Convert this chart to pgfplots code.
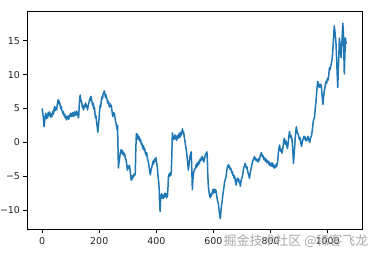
\documentclass[border=0pt]{standalone}
\usepackage{pgfplots}
\pgfplotsset{compat=1.18}
\usepackage{fontspec}
\setmainfont{DejaVu Sans}
\newfontfamily\cjk{Noto Sans CJK SC}
\definecolor{c0}{HTML}{1F77B4}
\pgfplotstableread{
x y
0 5.0
2 4.4
4 3.8
6 2.6
7 2.3
9 3.2
11 3.9
13 4.3
15 3.5
17 4.0
19 3.6
21 4.4
23 3.9
25 4.5
28 4.3
30 3.7
32 4.2
34 3.8
36 4.1
38 4.6
40 4.2
42 5.0
44 5.3
46 4.7
48 5.1
51 4.8
53 5.6
55 6.0
56 6.3
58 5.7
60 6.1
63 5.5
65 5.0
67 5.3
69 4.7
71 4.6
73 4.2
75 4.5
77 3.9
79 4.1
81 3.6
83 3.9
85 3.3
87 3.8
89 3.5
91 3.9
93 3.4
95 3.7
97 4.0
100 4.3
102 3.8
104 4.2
106 3.9
108 4.4
110 3.8
112 4.1
114 4.5
116 4.0
118 4.3
121 4.6
123 4.0
125 4.4
127 3.6
128 3.8
130 5.5
132 6.6
133 7.0
135 6.4
137 6.1
139 5.8
141 5.1
143 5.4
145 4.8
147 5.2
149 5.5
152 5.8
154 5.2
156 5.5
159 4.8
161 5.3
163 5.7
165 6.0
167 6.5
169 6.2
171 6.8
173 6.3
175 5.9
177 5.4
179 5.8
181 4.9
183 5.2
185 4.3
187 3.6
189 3.9
191 2.9
193 2.2
195 1.5
197 2.4
199 3.3
201 4.6
203 5.5
205 5.2
207 6.1
209 6.7
211 6.4
213 7.0
215 7.3
218 7.6
220 7.1
222 6.6
224 7.0
226 6.5
228 6.2
230 5.8
232 6.1
234 5.6
236 5.2
238 5.7
240 5.3
242 5.5
244 4.8
246 4.2
247 3.8
249 4.4
251 4.0
253 4.3
255 3.6
257 3.1
259 2.8
261 2.2
263 1.8
264 2.5
265 0.5
266 -1.5
267 -3.8
269 -3.0
271 -2.4
273 -1.8
275 -1.3
277 -1.1
279 -1.6
281 -1.2
283 -1.8
285 -1.5
287 -2.0
289 -1.7
291 -2.3
294 -2.6
296 -3.2
298 -3.9
299 -4.1
301 -3.5
303 -3.8
306 -3.4
308 -4.2
310 -4.9
312 -5.6
314 -5.0
316 -5.4
318 -4.9
320 -5.1
322 -4.7
324 -4.9
326 -4.6
327 -3.0
328 -1.0
330 1.3
332 0.8
334 1.2
336 0.4
338 0.9
341 0.6
343 0.1
345 0.4
347 -0.3
349 -0.1
351 -0.6
353 -0.9
355 -0.5
357 -1.2
359 -0.9
361 -1.5
364 -1.9
366 -1.5
368 -2.2
370 -2.6
372 -2.9
374 -3.5
376 -4.1
379 -4.8
381 -4.2
383 -3.8
386 -3.3
388 -2.8
390 -3.2
392 -2.6
394 -2.9
396 -2.4
399 -2.3
401 -3.0
403 -3.6
404 -4.1
406 -5.0
408 -5.8
410 -7.0
411 -8.5
413 -10.2
414 -9.0
416 -8.0
418 -7.6
420 -8.2
422 -7.7
424 -8.3
426 -7.9
428 -8.1
430 -7.5
432 -8.0
434 -7.6
436 -8.2
439 -7.8
441 -6.4
442 -5.1
444 -4.7
446 -5.0
448 -4.5
450 -4.9
452 -4.6
454 -2.0
456 1.4
458 0.9
460 0.4
463 0.6
465 1.1
467 0.5
469 0.9
471 0.3
474 1.0
476 0.6
478 1.2
480 0.7
482 1.4
484 0.8
486 1.5
488 1.1
491 2.0
493 1.4
495 1.6
498 0.7
500 0.2
502 -0.4
505 -1.1
507 -2.0
509 -2.8
512 -4.1
514 -3.4
516 -2.6
518 -2.0
520 -1.7
522 -1.4
524 -4.0
526 -7.0
528 -5.5
530 -4.6
532 -4.2
535 -3.9
537 -3.8
539 -3.3
541 -3.7
543 -3.0
545 -3.4
547 -3.3
549 -2.8
551 -3.1
553 -2.5
556 -2.7
558 -2.2
560 -2.1
562 -2.6
564 -2.3
566 -2.9
568 -2.6
570 -2.1
572 -1.8
575 -1.6
577 -1.4
579 -3.0
580 -4.8
582 -6.5
584 -7.2
586 -7.8
589 -8.2
591 -7.6
593 -7.9
596 -7.3
598 -7.0
600 -7.5
602 -6.9
605 -7.4
607 -7.0
609 -7.2
611 -7.8
613 -8.4
615 -8.8
617 -9.0
619 -9.8
621 -10.5
623 -11.0
624 -11.3
626 -10.2
628 -9.4
630 -8.8
632 -8.0
635 -7.1
637 -6.5
639 -5.8
641 -5.5
644 -5.1
646 -4.4
648 -3.8
650 -3.5
652 -3.3
654 -3.7
656 -3.5
658 -4.0
660 -3.8
662 -4.1
664 -4.5
666 -4.3
668 -4.9
670 -4.8
672 -5.3
674 -5.0
676 -5.6
679 -6.3
681 -5.6
684 -5.3
686 -5.7
688 -5.4
690 -6.0
692 -5.8
694 -6.5
696 -5.9
698 -5.4
701 -5.1
703 -4.6
705 -4.0
707 -3.6
709 -3.4
711 -3.1
713 -3.5
715 -3.8
717 -3.6
719 -4.1
721 -4.5
723 -4.8
726 -5.3
728 -4.7
730 -4.2
732 -3.8
734 -3.4
736 -3.0
738 -2.7
741 -2.4
743 -2.1
745 -2.5
747 -2.3
749 -2.7
751 -2.5
753 -2.8
755 -2.5
757 -2.9
759 -2.4
761 -2.6
763 -2.1
765 -1.8
768 -1.5
770 -1.9
772 -2.2
774 -2.0
776 -2.5
778 -2.6
780 -2.3
782 -2.8
784 -2.5
786 -3.0
788 -2.7
791 -2.8
793 -3.2
795 -2.9
797 -3.4
799 -3.1
801 -3.5
803 -3.3
805 -3.0
807 -3.6
809 -3.2
811 -3.7
814 -3.8
816 -3.4
818 -3.7
820 -3.2
822 -3.5
824 -3.0
826 -2.2
828 -1.2
831 -0.4
833 -0.8
835 -1.3
837 -1.0
840 -1.6
842 -1.1
844 -0.5
846 0.2
848 0.6
850 0.1
852 -0.3
854 0.2
856 -0.4
859 -0.9
861 -0.3
863 0.5
866 1.6
868 1.1
870 0.7
872 1.0
875 0.4
877 -0.8
879 -2.2
880 -3.1
882 -2.0
884 -0.8
886 0.5
888 1.6
890 2.3
892 1.8
894 1.4
897 1.1
899 0.8
901 0.4
903 0.7
905 0.1
908 -0.6
910 -0.2
912 0.3
915 0.6
917 0.9
919 0.5
921 0.8
923 0.3
925 0.2
927 0.6
929 0.4
931 0.9
933 0.5
935 0.2
937 0.0
939 0.5
941 0.8
943 0.9
945 1.5
947 2.2
949 3.0
951 3.4
953 3.6
954 3.8
956 4.8
958 5.7
959 6.1
961 7.2
963 8.2
965 9.0
967 8.6
969 8.3
971 8.1
973 8.6
975 8.3
977 8.5
979 7.6
981 6.5
983 5.6
985 6.5
987 7.2
988 7.6
990 8.0
992 8.6
994 9.0
996 8.7
998 9.2
1000 9.5
1002 9.2
1004 10.1
1006 11.0
1008 10.7
1010 11.2
1012 11.5
1014 12.0
1016 12.6
1017 13.0
1019 14.5
1021 16.0
1023 17.2
1025 16.5
1027 15.6
1029 14.5
1031 12.5
1033 10.2
1035 8.1
1037 10.5
1039 13.0
1041 15.4
1043 14.6
1045 13.3
1047 12.5
1049 14.0
1051 16.0
1053 17.6
1055 16.0
1056 14.5
1057 12.0
1058 10.1
1060 12.8
1062 15.4
1064 14.6
1066 14.8
}\series
\begin{document}
\begin{tikzpicture}
\begin{axis}[
  scale only axis, width=335bp, height=218bp,
  at={(0,0)}, anchor=south west,
  xmin=-53, xmax=1120, ymin=-12.8, ymax=19.4,
  xtick={0,200,400,600,800,1000},
  xticklabels={0,200,400,600,800,1000},
  ytick={-10,-5,0,5,10,15},
  yticklabels={−10,−5,0,5,10,15},
  tick align=outside, tick pos=left,
  major tick length=3.5bp,
  axis line style={line width=0.8bp, black},
  every tick/.style={line width=0.8bp, black},
  ticklabel style={font=\fontsize{9.5}{11}\selectfont, text=black!85},
  xticklabel style={yshift=-1bp},
  /pgf/number format/assume math mode=true,
]
\addplot[c0, line width=1.5bp, line join=round] table[x=x, y=y] {\series};
\end{axis}
\node[font=\cjk\fontsize{13}{15}\selectfont, text=gray!75, opacity=0.9] at (269bp,-12bp) {掘金技术社区 @稀客飞龙};
\pgfresetboundingbox
\path[use as bounding box] (-27bp,-27bp) rectangle (351bp,229bp);
\end{tikzpicture}
\end{document}
